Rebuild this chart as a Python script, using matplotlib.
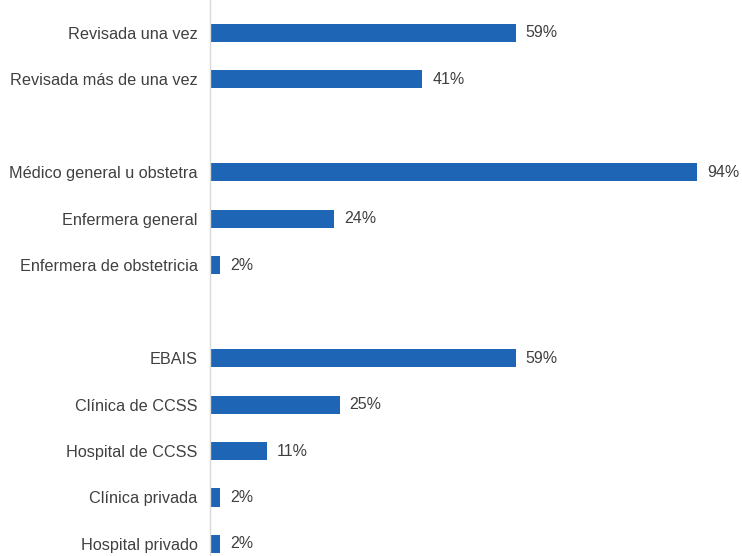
import matplotlib
matplotlib.use("Agg")
import matplotlib.pyplot as plt

categories = ["Revisada una vez", "Revisada más de una vez", "",
              "Médico general u obstetra", "Enfermera general", "Enfermera de obstetricia", "",
              "EBAIS", "Clínica de CCSS", "Hospital de CCSS", "Clínica privada", "Hospital privado"]
values = [59, 41, None, 94, 24, 2, None, 59, 25, 11, 2, 2]

plt.rcParams['font.family'] = ['Liberation Sans', 'DejaVu Sans']
fig = plt.figure(figsize=(7.42, 5.56), dpi=100)
ax = fig.add_axes([210/742, 0, 1 - 210/742, 1])

ys = [i for i, v in enumerate(values) if v is not None]
vs = [v for v in values if v is not None]
ax.barh(ys, vs, height=0.39, color="#1f65b5")
for y, v in zip(ys, vs):
    ax.text(v + 1.9, y, f"{v}%", va="center", ha="left", fontsize=11.5, color="#404040")

ax.set_yticks(range(len(categories)))
ax.set_yticklabels(categories, fontsize=11.7, color="#404040")
ax.tick_params(axis="y", length=0, pad=9)
ax.set_xticks([])
ax.set_xlim(0, 102.7)
ax.set_ylim(11.26, -0.71)
for s in ["top", "right", "bottom"]:
    ax.spines[s].set_visible(False)
ax.spines["left"].set_color("#d9d9d9")
ax.spines["left"].set_linewidth(1)

fig.savefig("out.png", dpi=100, facecolor="white")
